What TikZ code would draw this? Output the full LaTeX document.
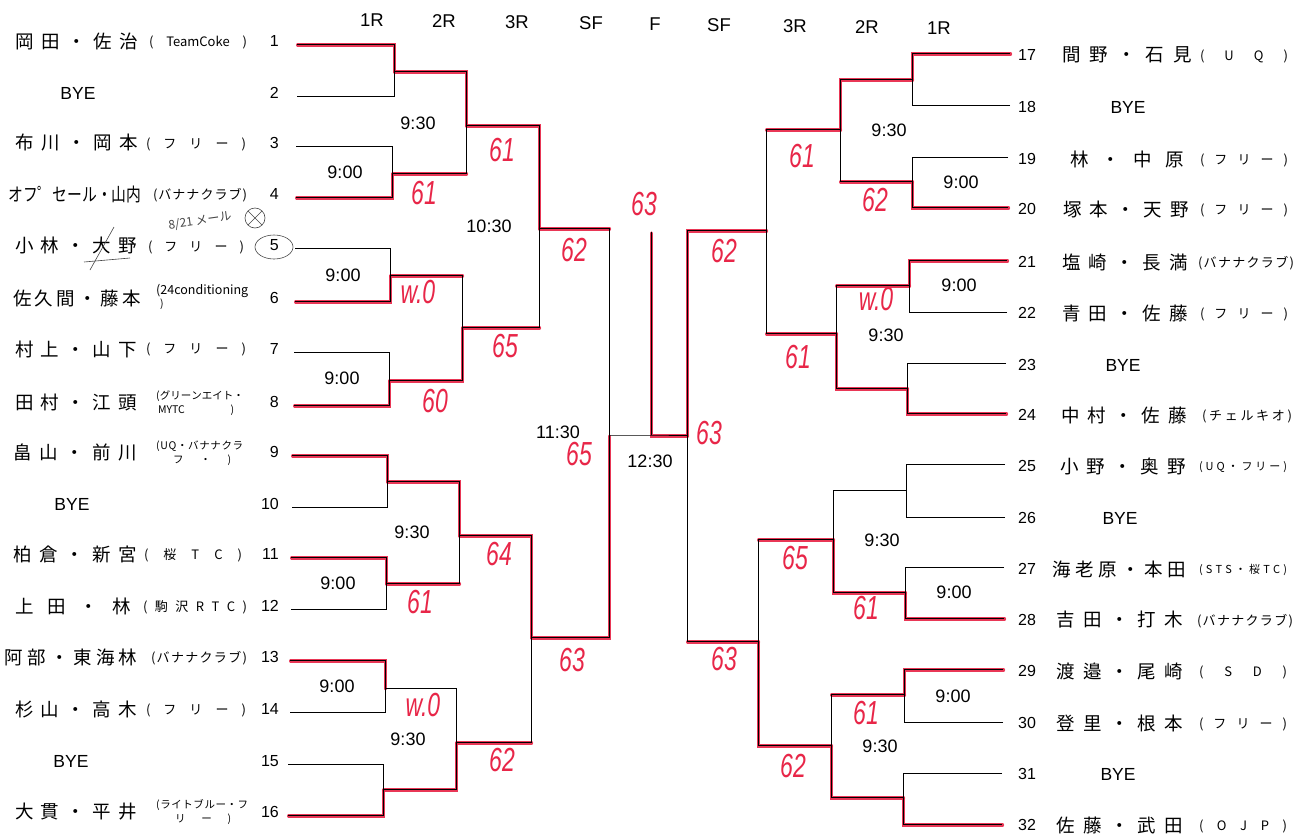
\documentclass[tikz,border=0pt]{standalone}
\usepackage{fontspec}
\usepackage{graphicx}
\setmainfont{Liberation Sans}
\newfontfamily\jpfont{Noto Sans CJK JP}
\newfontfamily\handfont{Liberation Sans}
\definecolor{hred}{RGB}{232,38,72}
\definecolor{pencil}{RGB}{70,70,70}
\ExplSyntaxOn
\bool_new:N \l_spread_first_bool
\NewDocumentCommand \spreadtext { m m }
  {
    \makebox[#1][s]
      {
        \bool_set_true:N \l_spread_first_bool
        \tl_map_inline:nn {#2}
          {
            \bool_if:NF \l_spread_first_bool { \hfill }
            \bool_set_false:N \l_spread_first_bool
            ##1
          }
      }
  }
\ExplSyntaxOff
\newcommand\hs[1]{\scalebox{1}[1.45]{#1}}
\begin{document}
\begin{tikzpicture}[x=1pt,y=-1pt,
 ln/.style={black,line width=1pt},
 win/.style={hred,line width=3.1pt,line cap=round,opacity=0.92,transform canvas={shift={(0.6,1.0)}}},
 hdr/.style={font=\fontsize{18.5}{20}\selectfont,inner sep=0pt},
 tm/.style={font=\fontsize{18}{20}\selectfont,inner sep=0pt},
 num/.style={font=\fontsize{16}{18}\selectfont,inner sep=0pt},
 bye/.style={font=\fontsize{17.5}{19}\selectfont,inner sep=0pt},
 nm/.style={font=\jpfont\fontsize{18.5}{20}\selectfont,inner sep=0pt},
 club/.style={font=\jpfont\fontsize{13}{14}\selectfont,inner sep=0pt},
 clubs/.style={font=\jpfont\fontsize{10.5}{12}\selectfont,inner sep=0pt,anchor=west},
 score/.style={font=\handfont\itshape\fontsize{23}{24}\selectfont,text=hred,inner sep=0pt},
 note/.style={pencil,line width=0.6pt}
]
\fill[white] (0,0) rectangle (1303,838);
\useasboundingbox (0,0) rectangle (1303,838);

% ---------- coordinates: left half ----------
\coordinate (P1) at (297,44);  \coordinate (P2) at (297,96);
\coordinate (P3) at (296,146); \coordinate (P4) at (296,197);
\coordinate (P5) at (295,248); \coordinate (P6) at (295,301);
\coordinate (P7) at (294,352); \coordinate (P8) at (294,405);
\coordinate (P9) at (292,455); \coordinate (P10) at (292,507);
\coordinate (P11) at (291,557); \coordinate (P12) at (291,609);
\coordinate (P13) at (290,660); \coordinate (P14) at (290,712);
\coordinate (P15) at (288,764); \coordinate (P16) at (288,815);
\coordinate (M1) at (394,71);  \coordinate (M2) at (392,173);
\coordinate (M3) at (390,275); \coordinate (M4) at (389,380);
\coordinate (M5) at (387,481); \coordinate (M6) at (386,583);
\coordinate (M7) at (385,688); \coordinate (M8) at (383,789);
\coordinate (N1) at (466,125); \coordinate (N2) at (462,327);
\coordinate (N3) at (459,535); \coordinate (N4) at (456,742);
\coordinate (Q1) at (539,228); \coordinate (Q2) at (531,637);
\coordinate (S1) at (609,435);
\coordinate (F) at (651,435);  \coordinate (FW) at (651,232);
% ---------- coordinates: right half ----------
\coordinate (R17) at (1010,53);  \coordinate (R18) at (1010,105);
\coordinate (R19) at (1008,157); \coordinate (R20) at (1008,207);
\coordinate (R21) at (1007,260); \coordinate (R22) at (1007,312);
\coordinate (R23) at (1006,363); \coordinate (R24) at (1006,413);
\coordinate (R25) at (1005,464); \coordinate (R26) at (1005,517);
\coordinate (R27) at (1004,567); \coordinate (R28) at (1004,618);
\coordinate (R29) at (1003,669); \coordinate (R30) at (1003,722);
\coordinate (R31) at (1002,773); \coordinate (R32) at (1002,824);
\coordinate (A1) at (912,79);  \coordinate (A2) at (912,181);
\coordinate (A3) at (909,285); \coordinate (A4) at (907,388);
\coordinate (A5) at (906,490); \coordinate (A6) at (905,592);
\coordinate (A7) at (904,694); \coordinate (A8) at (903,797);
\coordinate (B1) at (840,129); \coordinate (B2) at (836,333);
\coordinate (B3) at (833,539); \coordinate (B4) at (831,745);
\coordinate (C1) at (766,230); \coordinate (C2) at (758,641);
\coordinate (D) at (687,435);

% ---------- red winner marks ----------
\foreach \a/\b in {P1/M1,P4/M2,P6/M3,P8/M4,P9/M5,P11/M6,P13/M7,P16/M8,
  M1/N1,M4/N2,M5/N3,M8/N4,N1/Q1,N3/Q2,Q2/S1,
  R17/A1,R20/A2,R21/A3,R24/A4,R28/A6,R29/A7,R32/A8,
  A1/B1,A4/B2,A6/B3,A8/B4,B4/C2,C1/D}
  \draw[win] (\a) -| (\b);
\foreach \a/\b in {M2/N1,M3/N2,M6/N3,N2/Q1,N4/Q2,Q1/S1,
  A2/B1,A3/B2,A7/B4,B1/C1,B2/C1,B3/C2,C2/D}
  \draw[win] (\a) -- (\a -| \b);
\draw[win] (D) -- (F) -- (FW);

% ---------- black bracket ----------
\foreach \a/\b/\m in {P1/P2/M1,P3/P4/M2,P5/P6/M3,P7/P8/M4,P9/P10/M5,P11/P12/M6,P13/P14/M7,P15/P16/M8,
  M1/M2/N1,M3/M4/N2,M5/M6/N3,M7/M8/N4,N1/N2/Q1,N3/N4/Q2,Q1/Q2/S1,
  R17/R18/A1,R19/R20/A2,R21/R22/A3,R23/R24/A4,R25/R26/A5,R27/R28/A6,R29/R30/A7,R31/R32/A8,
  A1/A2/B1,A3/A4/B2,A5/A6/B3,A7/A8/B4,B1/B2/C1,B3/B4/C2,C1/C2/D}
  {\draw[ln] (\a) -| (\m); \draw[ln] (\b) -| (\m);}
\draw[ln] (S1) -- (F) -- (D);
\draw[ln] (F) -- (FW);

% ---------- round headers ----------
\node[hdr] (h1) at (372,20) {1R};
\node[hdr] (h2) at (444,21) {2R};
\node[hdr] (h3) at (517,22) {3R};
\node[hdr] (h4) at (591,23) {SF};
\node[hdr] (h5) at (655,24) {F};
\node[hdr] (h6) at (719,25) {SF};
\node[hdr] (h7) at (795,26) {3R};
\node[hdr] (h8) at (867,27) {2R};
\node[hdr] (h9) at (939,28) {1R};

% ---------- times ----------
\node[tm] (t1) at (418,123) {9:30};
\node[tm] (t2) at (345,172) {9:00};
\node[tm] (t3) at (489,226) {10:30};
\node[tm] (t4) at (343,275) {9:00};
\node[tm] (t5) at (342,378) {9:00};
\node[tm] (t6) at (558,432) {11:30};
\node[tm] (t7) at (412,532) {9:30};
\node[tm] (t8) at (338,583) {9:00};
\node[tm] (t9) at (337,686) {9:00};
\node[tm] (t10) at (408,739) {9:30};
\node[tm] (t11) at (650,461) {12:30};
\node[tm] (t12) at (889,130) {9:30};
\node[tm] (t13) at (961,182) {9:00};
\node[tm] (t14) at (959,285) {9:00};
\node[tm] (t15) at (886,335) {9:30};
\node[tm] (t16) at (882,540) {9:30};
\node[tm] (t17) at (954,592) {9:00};
\node[tm] (t18) at (953,696) {9:00};
\node[tm] (t19) at (880,746) {9:30};

% ---------- left numbers ----------
\foreach \i/\y in {1/41,2/93,3/143,4/194,5/245,6/298,7/349,8/402,9/452,10/504,11/554,12/606,13/657,14/709,15/761,16/812}
  \node[num,anchor=east] (num\i) at (279,\y) {\i};
% ---------- right numbers ----------
\foreach \i/\y in {17/55,18/107,19/159,20/209,21/262,22/313,23/365,24/415,25/466,26/518,27/569,28/620,29/671,30/723,31/774,32/825}
  \node[num,anchor=west] (num\i) at (1018,\y) {\i};

% ---------- left names ----------
\node[nm] (nm1) at (77,41) {\spreadtext{122pt}{岡田・佐治}};
\node[bye] (nm2) at (78,93) {BYE};
\node[nm] (nm3) at (77,143) {\spreadtext{122pt}{布川・岡本}};
\node[nm] (nm4) at (75,194) {\scalebox{0.8}[1]{オフ゜セール・山内}};
\node[nm] (nm5) at (76,245) {\spreadtext{122pt}{小林・大野}};
\node[nm] (nm6) at (77,298) {\spreadtext{128pt}{佐久間・藤本}};
\node[nm] (nm7) at (76,349) {\spreadtext{122pt}{村上・山下}};
\node[nm] (nm8) at (76,402) {\spreadtext{122pt}{田村・江頭}};
\node[nm] (nm9) at (75,452) {\spreadtext{124pt}{畠山・前川}};
\node[bye] (nm10) at (72,504) {BYE};
\node[nm] (nm11) at (75,554) {\spreadtext{124pt}{柏倉・新宮}};
\node[nm] (nm12) at (73,606) {\spreadtext{116pt}{上田・林}};
\node[nm] (nm13) at (71,657) {\spreadtext{133pt}{阿部・東海林}};
\node[nm] (nm14) at (76,709) {\spreadtext{122pt}{杉山・高木}};
\node[bye] (nm15) at (71,761) {BYE};
\node[nm] (nm16) at (76,812) {\spreadtext{122pt}{大貫・平井}};

% ---------- left clubs ----------
\node[club] (cl1) at (198,42) {\spreadtext{98pt}{({TeamCoke})}};
\node[club] (cl3) at (196,144) {\spreadtext{100pt}{(フリー)}};
\node[club] (cl4) at (200,195) {\spreadtext{94pt}{(バナナクラブ)}};
\node[club] (cl5) at (196,247) {\spreadtext{96pt}{(フリー)}};
\node[clubs,font=\jpfont\fontsize{12.5}{13}\selectfont] (cl6a) at (156,291) {(24conditioning};
\node[clubs] (cl6b) at (160,304) {)};
\node[club] (cl7) at (196,349) {\spreadtext{100pt}{(フリー)}};
\node[clubs] (cl8a) at (156,396) {\spreadtext{87pt}{(グリーンエイト・}};
\node[clubs] (cl8b) at (158,410) {\spreadtext{76pt}{{MYTC})}};
\node[clubs] (cl9a) at (156,446) {\spreadtext{87pt}{(UQ・バナナクラ}};
\node[clubs] (cl9b) at (173,460) {\spreadtext{58pt}{フ・)}};
\node[club] (cl11) at (193,555) {\spreadtext{98pt}{(桜TC)}};
\node[club] (cl12) at (195,607) {\spreadtext{104pt}{(駒沢RTC)}};
\node[club] (cl13) at (199,658) {\spreadtext{96pt}{(バナナクラブ)}};
\node[club] (cl14) at (196,710) {\spreadtext{100pt}{(フリー)}};
\node[clubs] (cl16a) at (156,805) {\spreadtext{92pt}{(ライトブルー・フ}};
\node[clubs] (cl16b) at (175,819) {\spreadtext{56pt}{リー)}};

% ---------- right names ----------
\node[nm] (nm17) at (1127,55) {\spreadtext{130pt}{間野・石見}};
\node[bye] (nm18) at (1128,107) {BYE};
\node[nm] (nm19) at (1127,159) {\spreadtext{114pt}{林・中原}};
\node[nm] (nm20) at (1126,209) {\spreadtext{126pt}{塚本・天野}};
\node[nm] (nm21) at (1125,262) {\spreadtext{126pt}{塩崎・長満}};
\node[nm] (nm22) at (1125,313) {\spreadtext{126pt}{青田・佐藤}};
\node[bye] (nm23) at (1123,365) {BYE};
\node[nm] (nm24) at (1124,415) {\spreadtext{126pt}{中村・佐藤}};
\node[nm] (nm25) at (1123,466) {\spreadtext{126pt}{小野・奥野}};
\node[bye] (nm26) at (1120,518) {BYE};
\node[nm] (nm27) at (1119,569) {\spreadtext{134pt}{海老原・本田}};
\node[nm] (nm28) at (1120,620) {\spreadtext{127pt}{吉田・打木}};
\node[nm] (nm29) at (1120,671) {\spreadtext{127pt}{渡邉・尾崎}};
\node[nm] (nm30) at (1120,723) {\spreadtext{127pt}{登里・根本}};
\node[bye] (nm31) at (1118,774) {BYE};
\node[nm] (nm32) at (1120,825) {\spreadtext{127pt}{佐藤・武田}};

% ---------- right clubs ----------
\node[club] (cl17) at (1244,56) {\spreadtext{88pt}{(UQ)}};
\node[club] (cl19) at (1244,160) {\spreadtext{88pt}{(フリー)}};
\node[club] (cl20) at (1244,210) {\spreadtext{88pt}{(フリー)}};
\node[club] (cl21) at (1246,263) {\spreadtext{96pt}{(バナナクラブ)}};
\node[club] (cl22) at (1244,314) {\spreadtext{88pt}{(フリー)}};
\node[club] (cl24) at (1247,416) {\spreadtext{90pt}{(チェルキオ)}};
\node[club,font=\jpfont\fontsize{11}{12}\selectfont] (cl25) at (1243,467) {\spreadtext{88pt}{(UQ・フリー)}};
\node[club,font=\jpfont\fontsize{11}{12}\selectfont] (cl27) at (1243,570) {\spreadtext{88pt}{(STS・桜TC)}};
\node[club] (cl28) at (1245,621) {\spreadtext{96pt}{(バナナクラブ)}};
\node[club] (cl29) at (1243,672) {\spreadtext{88pt}{(SD)}};
\node[club] (cl30) at (1243,724) {\spreadtext{88pt}{(フリー)}};
\node[club] (cl32) at (1243,826) {\spreadtext{88pt}{(OJP)}};

% ---------- handwritten scores ----------
\node[score] (s1) at (502,150) {\hs{61}};
\node[score] (s2) at (424,193) {\hs{61}};
\node[score] (s3) at (574,250) {\hs{62}};
\node[score] (s4) at (418,292) {\hs{w.0}};
\node[score] (s5) at (505,346) {\hs{65}};
\node[score] (s6) at (435,401) {\hs{60}};
\node[score] (s7) at (579,454) {\hs{65}};
\node[score] (s8) at (499,554) {\hs{64}};
\node[score] (s9) at (420,602) {\hs{61}};
\node[score] (s10) at (572,660) {\hs{63}};
\node[score] (s11) at (423,705) {\hs{w.0}};
\node[score] (s12) at (502,760) {\hs{62}};
\node[score] (s13) at (644,204) {\hs{63}};
\node[score] (s14) at (802,156) {\hs{61}};
\node[score] (s15) at (875,200) {\hs{62}};
\node[score] (s16) at (724,251) {\hs{62}};
\node[score] (s17) at (876,299) {\hs{w.0}};
\node[score] (s18) at (798,357) {\hs{61}};
\node[score] (s19) at (709,433) {\hs{63}};
\node[score] (s20) at (795,558) {\hs{65}};
\node[score] (s21) at (866,608) {\hs{61}};
\node[score] (s22) at (724,659) {\hs{63}};
\node[score] (s23) at (866,713) {\hs{61}};
\node[score] (s24) at (793,766) {\hs{62}};

% ---------- pencil note at entry 5 ----------
\node[font=\jpfont\fontsize{12}{13}\selectfont,text=pencil,rotate=8,inner sep=0pt] (pn) at (200,221) {8/21 メール};
\draw[note] (255,218) circle (10);
\draw[note] (248,211) -- (262,225) (262,211) -- (248,225);
\draw[note] (274,247) ellipse (19 and 12);
\draw[note] (90,270) -- (114,227);
\draw[note] (84,262) -- (130,258);
\end{tikzpicture}
\end{document}
